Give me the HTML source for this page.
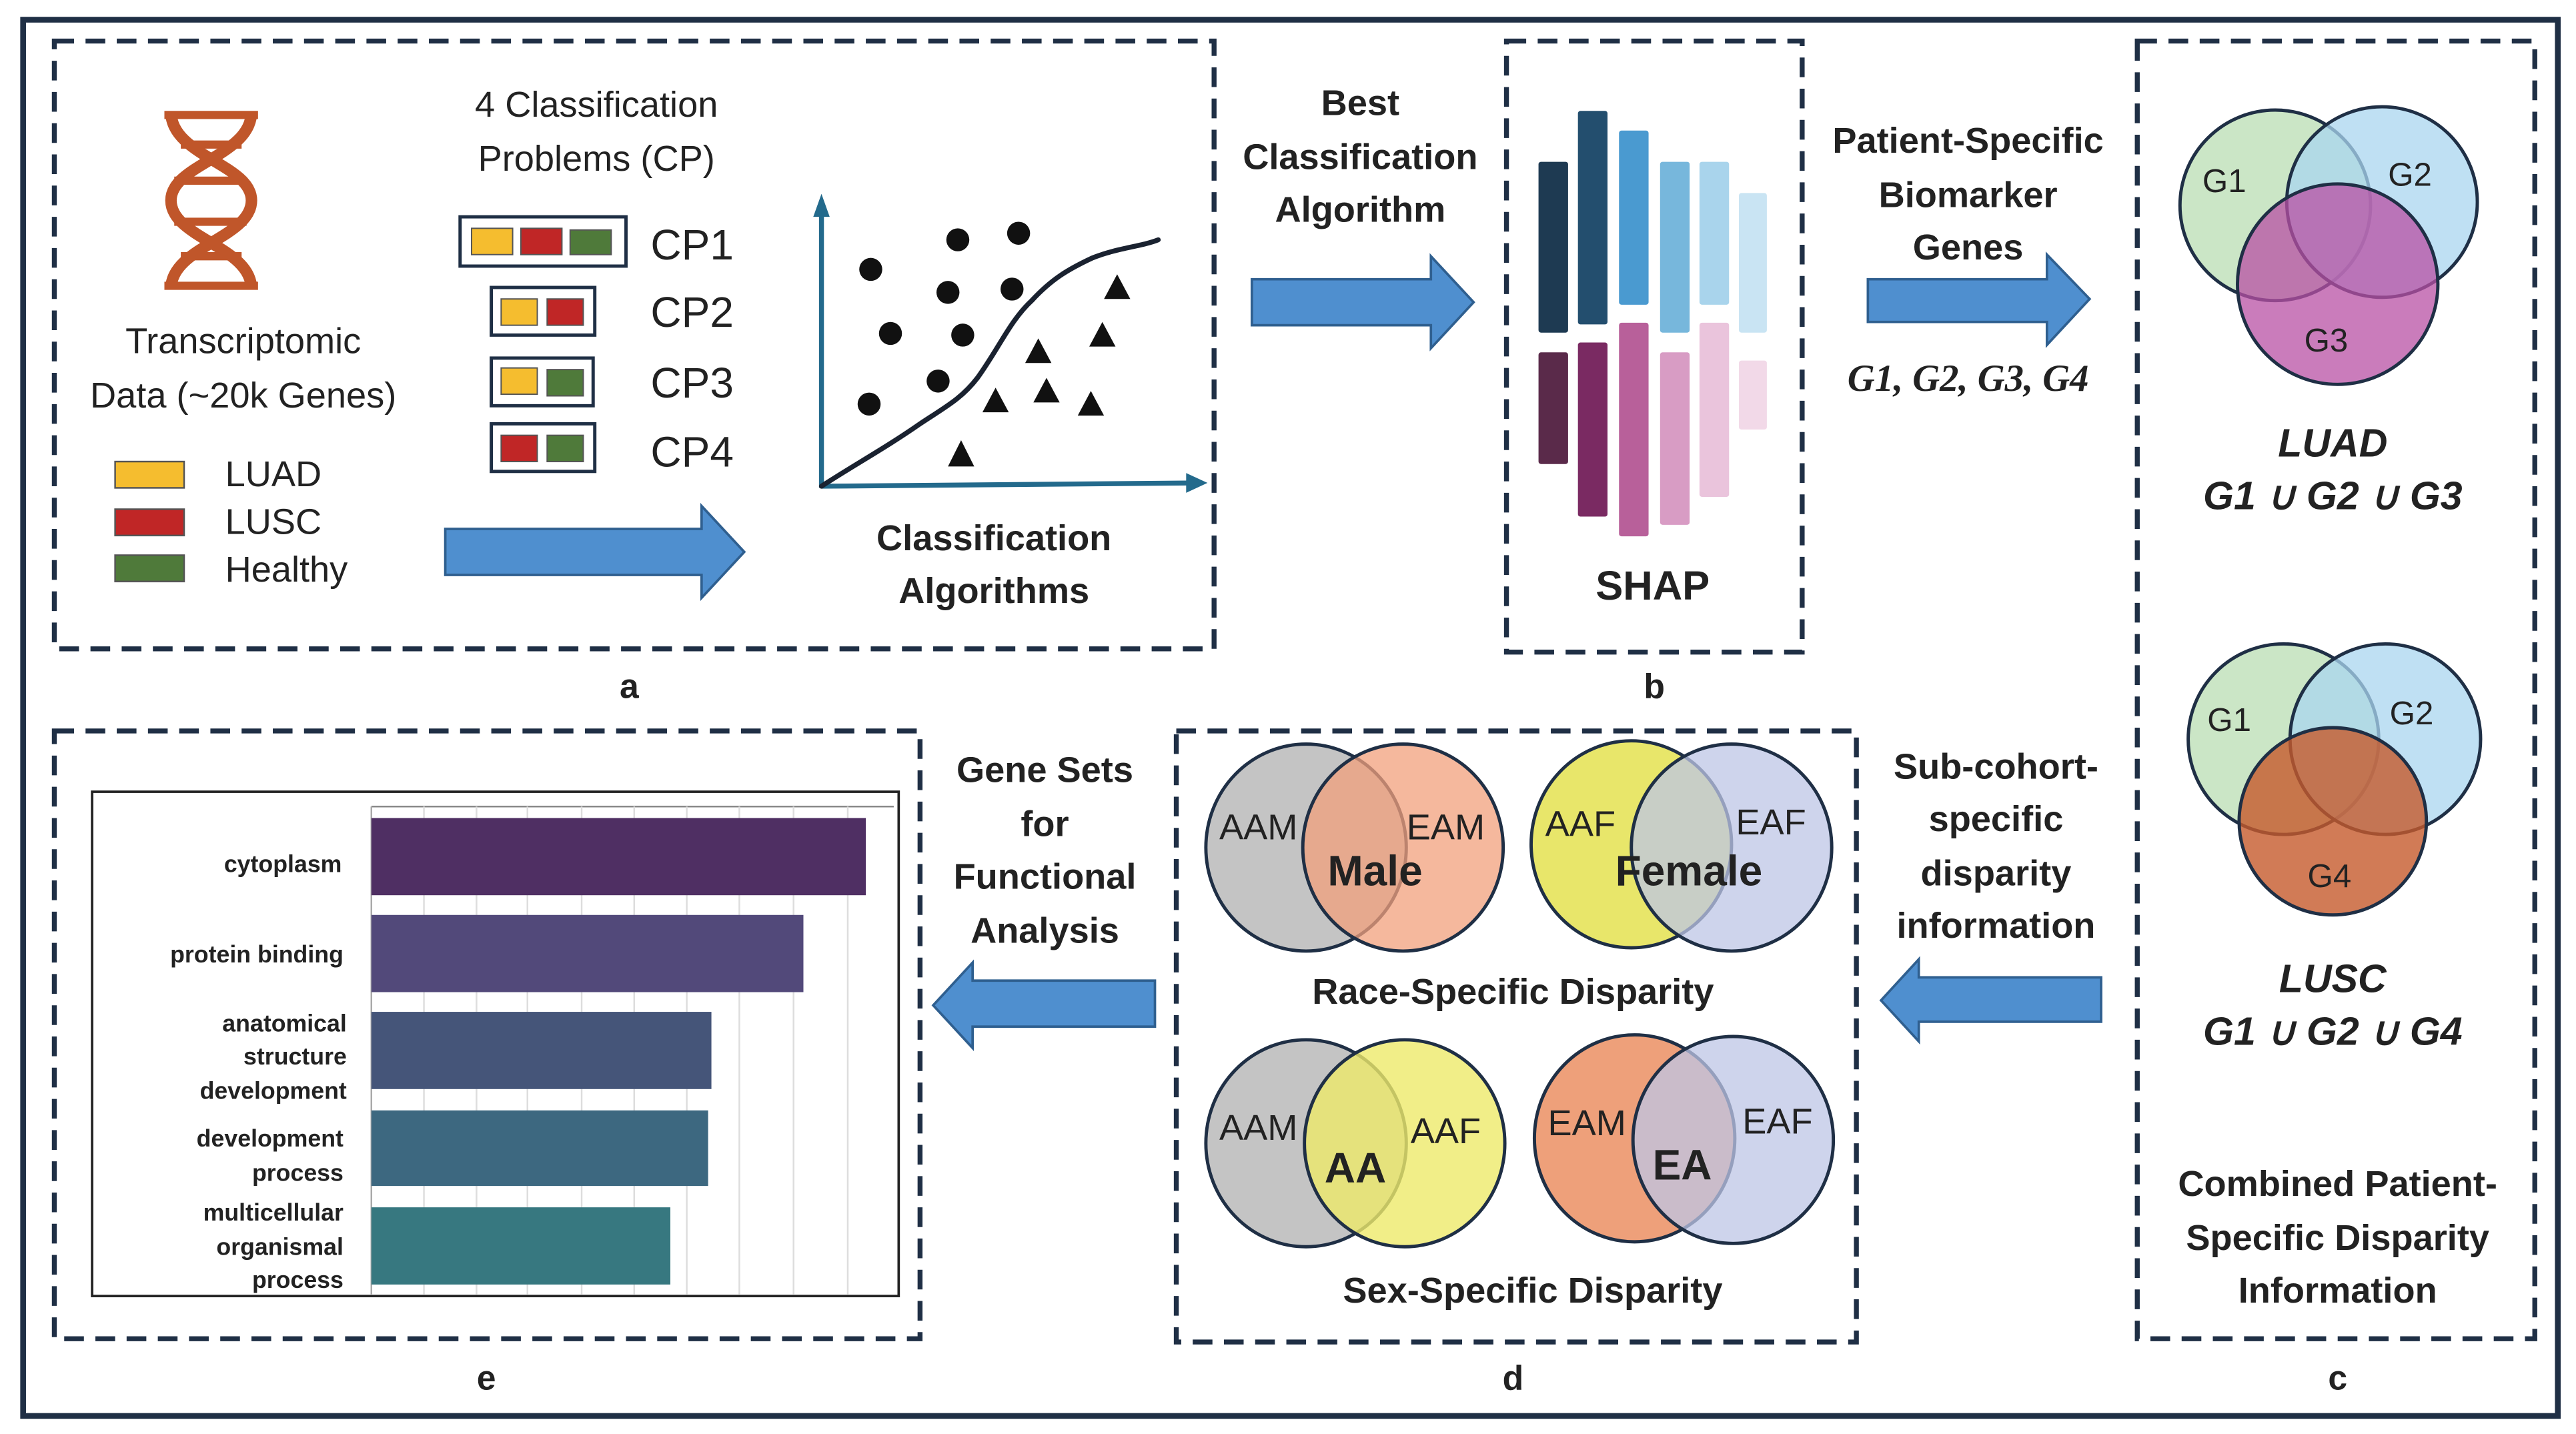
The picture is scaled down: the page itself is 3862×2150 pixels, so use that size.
<!DOCTYPE html>
<html><head><meta charset="utf-8"><style>
html,body{margin:0;padding:0;background:#fff}
svg{display:block}
text{font-family:"Liberation Sans",sans-serif}
.b{font-weight:bold;fill:#222}
.n{fill:#222}
.m{font-style:italic;font-weight:bold;fill:#222}
.d{fill:none;stroke:#1f2f45;stroke-width:3;stroke-dasharray:12 7}
</style></head><body>
<svg width="3862" height="2150" viewBox="0 0 1568 873" xmlns="http://www.w3.org/2000/svg">
<rect x="14" y="12" width="1543" height="850" fill="#fff" stroke="#1f2f45" stroke-width="3.5"/>
<rect class="d" x="33" y="25" width="706" height="370"/>
<rect class="d" x="917" y="25" width="180" height="372"/>
<rect class="d" x="1301" y="25" width="242" height="790"/>
<rect class="d" x="716" y="445" width="414" height="372"/>
<rect class="d" x="33" y="445" width="527" height="370"/>
<g class="b" font-size="21" text-anchor="middle">
<text x="383" y="425">a</text><text x="1007" y="425">b</text><text x="1423" y="846">c</text><text x="921" y="846">d</text><text x="296" y="846">e</text>
</g>
<g fill="none" stroke="#c0562a" stroke-width="7">
<path d="M104 68 C104 95,153 100,153 122 C153 145,104 150,104 176"/>
<path d="M153 68 C153 95,104 100,104 122 C104 145,153 150,153 176"/>
</g>
<g stroke="#c0562a" stroke-width="5"><line x1="100" y1="70" x2="157" y2="70"/><line x1="110" y1="88" x2="147" y2="88"/><line x1="106" y1="110" x2="150" y2="110"/><line x1="106" y1="135" x2="150" y2="135"/><line x1="110" y1="156" x2="147" y2="156"/><line x1="100" y1="174" x2="157" y2="174"/></g>
<g class="n" font-size="22" text-anchor="middle">
<text x="148" y="215">Transcriptomic</text><text x="148" y="248">Data (~20k Genes)</text>
<text x="363" y="71">4 Classification</text><text x="363" y="104">Problems (CP)</text>
</g>
<g class="n" font-size="22"><text x="137" y="296">LUAD</text><text x="137" y="325">LUSC</text><text x="137" y="354">Healthy</text></g>
<rect x="70" y="281" width="42" height="16" fill="#f5bd2f" stroke="#555"/>
<rect x="70" y="310" width="42" height="16" fill="#c02626" stroke="#555"/>
<rect x="70" y="338" width="42" height="16" fill="#4f7a3a" stroke="#555"/>
<g stroke="#1f2f45" stroke-width="2" fill="none">
<rect x="280" y="132" width="101" height="30"/><rect x="299" y="175" width="63" height="29"/><rect x="299" y="218" width="62" height="29"/><rect x="299" y="258" width="63" height="29"/></g>
<g stroke="#555" stroke-width=".8">
<rect x="287" y="139" width="25" height="16" fill="#f5bd2f"/><rect x="317" y="139" width="25" height="16" fill="#c02626"/><rect x="347" y="140" width="25" height="15" fill="#4f7a3a"/>
<rect x="305" y="182" width="22" height="16" fill="#f5bd2f"/><rect x="333" y="182" width="22" height="16" fill="#c02626"/>
<rect x="305" y="224" width="22" height="16" fill="#f5bd2f"/><rect x="333" y="225" width="22" height="16" fill="#4f7a3a"/>
<rect x="305" y="265" width="22" height="16" fill="#c02626"/><rect x="333" y="265" width="22" height="16" fill="#4f7a3a"/></g>
<g class="n" font-size="26"><text x="396" y="158">CP1</text><text x="396" y="199">CP2</text><text x="396" y="242">CP3</text><text x="396" y="284">CP4</text></g>
<g stroke="#236a8c" stroke-width="3" fill="none"><line x1="500" y1="297" x2="500" y2="125"/><line x1="500" y1="296" x2="728" y2="294"/></g>
<polygon points="500,118 495,132 505,132" fill="#236a8c"/><polygon points="735,294 722,288 722,300" fill="#236a8c"/>
<path d="M500 296 C520 283,540 272,560 258 C575 248,585 243,595 230 C608 212,615 195,628 183 C640 170,650 164,665 157 C680 151,695 150,705 146" fill="none" stroke="#1a2230" stroke-width="3" stroke-linecap="round"/>
<g fill="#111"><circle cx="530" cy="164" r="7"/><circle cx="583" cy="146" r="7"/><circle cx="620" cy="142" r="7"/><circle cx="577" cy="178" r="7"/><circle cx="616" cy="176" r="7"/><circle cx="542" cy="203" r="7"/><circle cx="586" cy="204" r="7"/><circle cx="571" cy="232" r="7"/><circle cx="529" cy="246" r="7"/>
<polygon points="680,167 672,182 688,182"/><polygon points="671,196 663,211 679,211"/><polygon points="632,206 624,221 640,221"/><polygon points="606,236 598,251 614,251"/><polygon points="637,230 629,245 645,245"/><polygon points="664,238 656,253 672,253"/><polygon points="585,268 577,284 593,284"/></g>
<g class="b" font-size="22" text-anchor="middle"><text x="605" y="335">Classification</text><text x="605" y="367">Algorithms</text>
<text x="828" y="70">Best</text><text x="828" y="103">Classification</text><text x="828" y="135">Algorithm</text>
<text x="1198" y="93">Patient-Specific</text><text x="1198" y="126">Biomarker</text><text x="1198" y="158">Genes</text>
<text x="1006" y="365" font-size="25">SHAP</text>
<text x="636" y="476">Gene Sets</text><text x="636" y="509">for</text><text x="636" y="541">Functional</text><text x="636" y="574">Analysis</text>
<text x="1215" y="474">Sub-cohort-</text><text x="1215" y="506">specific</text><text x="1215" y="539">disparity</text><text x="1215" y="571">information</text>
<text x="1423" y="728">Combined Patient-</text><text x="1423" y="761">Specific Disparity</text><text x="1423" y="793">Information</text>
<text x="921" y="611">Race-Specific Disparity</text><text x="933" y="793">Sex-Specific Disparity</text>
</g>
<g fill="#4f8fcf" stroke="#2f5f8f" stroke-width="1.5">
<polygon points="271,322 427,322 427,308 453,336 427,364 427,350 271,350"/>
<polygon points="762,170 871,170 871,156 897,184 871,212 871,198 762,198"/>
<polygon points="1137,170 1246,170 1246,155 1272,182 1246,210 1246,196 1137,196"/>
<polygon points="1279,595 1168,595 1168,584 1145,609 1168,634 1168,622 1279,622"/>
<polygon points="703,597 592,597 592,586 568,612 592,638 592,625 703,625"/>
</g>
<g stroke="#fff" stroke-width="1">
<rect x="936" y="98" width="19" height="105" fill="#1e3a52" rx="2"/><rect x="960" y="67" width="19" height="131" fill="#234e6e" rx="2"/><rect x="985" y="79" width="19" height="107" fill="#4a9ad0" rx="2"/><rect x="1010" y="98" width="19" height="105" fill="#77b7dc" rx="2"/><rect x="1034" y="98" width="19" height="88" fill="#a9d4ec" rx="2"/><rect x="1058" y="117" width="18" height="86" fill="#c9e4f3" rx="2"/>
<rect x="936" y="214" width="19" height="69" fill="#5a2a4a" rx="2"/><rect x="960" y="208" width="19" height="107" fill="#7a2a62" rx="2"/><rect x="985" y="196" width="19" height="131" fill="#b8609a" rx="2"/><rect x="1010" y="214" width="19" height="106" fill="#d89cc4" rx="2"/><rect x="1034" y="196" width="19" height="107" fill="#eac4dc" rx="2"/><rect x="1058" y="219" width="18" height="43" fill="#f2d9e8" rx="2"/>
</g>
<text class="m" style="font-family:'Liberation Serif',serif" font-size="23" x="1198" y="238" text-anchor="middle">G1, G2, G3, G4</text>
<g stroke="#1f2f45" stroke-width="2">
<circle cx="1385" cy="125" r="58" fill="#c5e3c0" fill-opacity=".9"/><circle cx="1450" cy="123" r="58" fill="#a9d6ef" fill-opacity=".75"/><circle cx="1423" cy="173" r="61" fill="#b850a4" fill-opacity=".75"/>
<circle cx="1390" cy="450" r="58" fill="#c5e3c0" fill-opacity=".9"/><circle cx="1452" cy="450" r="58" fill="#a9d6ef" fill-opacity=".75"/><circle cx="1420" cy="500" r="57" fill="#c65a2c" fill-opacity=".8"/>
</g>
<g class="n" font-size="20" text-anchor="middle"><text x="1354" y="117">G1</text><text x="1467" y="113">G2</text><text x="1416" y="214">G3</text><text x="1357" y="445">G1</text><text x="1468" y="441">G2</text><text x="1418" y="540">G4</text></g>
<g class="m" style="font-family:'Liberation Serif',serif" font-size="24" text-anchor="middle"><text x="1420" y="278">LUAD</text><text x="1420" y="310">G1 ∪ G2 ∪ G3</text><text x="1420" y="604">LUSC</text><text x="1420" y="636">G1 ∪ G2 ∪ G4</text></g>
<g stroke="#1f2f45" stroke-width="2">
<ellipse cx="795" cy="516" rx="61" ry="63" fill="#c4c4c4"/><ellipse cx="854" cy="516" rx="61" ry="63" fill="#f2a07c" fill-opacity=".75"/>
<ellipse cx="993" cy="514" rx="61" ry="63" fill="#e8e66a"/><ellipse cx="1054" cy="516" rx="61" ry="63" fill="#bec6e6" fill-opacity=".75"/>
<ellipse cx="795" cy="696" rx="61" ry="63" fill="#c4c4c4"/><ellipse cx="855" cy="696" rx="61" ry="63" fill="#eeea6a" fill-opacity=".8"/>
<ellipse cx="995" cy="693" rx="61" ry="63" fill="#eea07a"/><ellipse cx="1055" cy="694" rx="61" ry="63" fill="#bec6e6" fill-opacity=".75"/>
</g>
<g class="n" font-size="22" text-anchor="middle"><text x="766" y="511">AAM</text><text x="880" y="511">EAM</text><text x="962" y="509">AAF</text><text x="1078" y="508">EAF</text><text x="766" y="694">AAM</text><text x="880" y="696">AAF</text><text x="966" y="691">EAM</text><text x="1082" y="690">EAF</text></g>
<g class="b" font-size="26" text-anchor="middle"><text x="837" y="539">Male</text><text x="1028" y="539">Female</text><text x="825" y="720">AA</text><text x="1024" y="718">EA</text></g>
<rect x="56" y="482" width="491" height="307" fill="#fff" stroke="#222" stroke-width="1.5"/>
<g stroke="#ddd" stroke-width="1"><line x1="226" y1="491" x2="544" y2="491" stroke="#888"/><line x1="258" y1="491" x2="258" y2="788"/><line x1="290" y1="491" x2="290" y2="788"/><line x1="321" y1="491" x2="321" y2="788"/><line x1="354" y1="491" x2="354" y2="788"/><line x1="386" y1="491" x2="386" y2="788"/><line x1="418" y1="491" x2="418" y2="788"/><line x1="450" y1="491" x2="450" y2="788"/><line x1="483" y1="491" x2="483" y2="788"/><line x1="516" y1="491" x2="516" y2="788"/><line x1="226" y1="491" x2="226" y2="788" stroke="#aaa"/></g>
<rect x="226" y="498" width="301" height="47" fill="#4f2f63"/><rect x="226" y="557" width="263" height="47" fill="#52497a"/><rect x="226" y="616" width="207" height="47" fill="#455579"/><rect x="226" y="676" width="205" height="46" fill="#3d6880"/><rect x="226" y="735" width="182" height="47" fill="#377880"/>
<g class="b" font-size="14.5" text-anchor="end"><text x="208" y="531">cytoplasm</text><text x="209" y="586">protein binding</text><text x="211" y="628">anatomical</text><text x="211" y="648">structure</text><text x="211" y="669">development</text><text x="209" y="698">development</text><text x="209" y="719">process</text><text x="209" y="743">multicellular</text><text x="209" y="764">organismal</text><text x="209" y="784">process</text></g>
</svg>
</body></html>
